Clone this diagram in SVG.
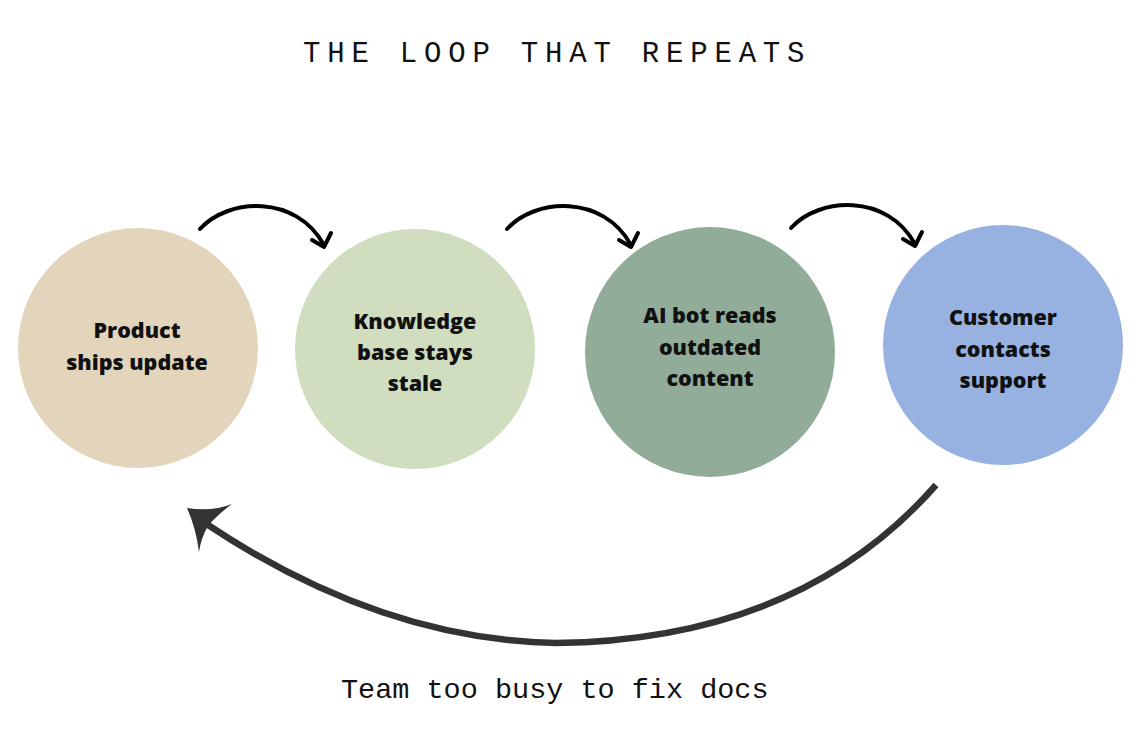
<svg xmlns="http://www.w3.org/2000/svg" width="1136" height="734" viewBox="0 0 1136 734">
<style>
.title{font-family:"Liberation Mono","Courier New",monospace;font-size:29px;letter-spacing:6.8px;fill:#111}
.caption{font-family:"Liberation Mono","Courier New",monospace;font-size:28.5px;fill:#111}
.lbl{font-family:"Open Sans","Liberation Sans",sans-serif;font-weight:800;font-size:21.5px;fill:#111;text-anchor:middle}
.small{fill:none;stroke:#000;stroke-width:4;stroke-linecap:round;stroke-linejoin:round}
.big{fill:none;stroke:#333;stroke-width:6.5}
</style>
<defs>
<g id="hop">
<path class="small" d="M200 229 C228 198 296 194 324 245"/>
<path class="small" d="M312 240 L324 247 L331 233"/>
</g>
</defs>
<rect width="1136" height="734" fill="#fff"/>
<text class="title" x="303" y="62">THE LOOP THAT REPEATS</text>
<g id="connectors">
<use href="#hop"/>
<use href="#hop" transform="translate(307,0)"/>
<use href="#hop" transform="translate(591,-1)"/>
<path class="big" d="M936 485 Q800 640 556 643 Q380 640 205 523"/>
<path d="M187 508 Q212 512 232 504 Q216 516 208 526 Q201 538 199 552 Q196 528 187 508 Z" fill="#333"/>
</g>
<g id="node1">
<circle cx="138" cy="348" r="120" fill="#E3D5BB"/>
<text class="lbl" x="137" y="338">Product</text>
<text class="lbl" x="137" y="370">ships update</text>
</g>
<g id="node2">
<circle cx="415" cy="349" r="120" fill="#D0DDBF"/>
<text class="lbl" x="415" y="329">Knowledge</text>
<text class="lbl" x="415" y="360">base stays</text>
<text class="lbl" x="415" y="391">stale</text>
</g>
<g id="node3">
<circle cx="710" cy="352" r="125" fill="#91AD9A"/>
<text class="lbl" x="710" y="323">AI bot reads</text>
<text class="lbl" x="710" y="355">outdated</text>
<text class="lbl" x="710" y="386">content</text>
</g>
<g id="node4">
<circle cx="1003" cy="345" r="120" fill="#97B2E0"/>
<text class="lbl" x="1003" y="325">Customer</text>
<text class="lbl" x="1003" y="357">contacts</text>
<text class="lbl" x="1003" y="388">support</text>
</g>
<text class="caption" x="341" y="698">Team too busy to fix docs</text>
</svg>
